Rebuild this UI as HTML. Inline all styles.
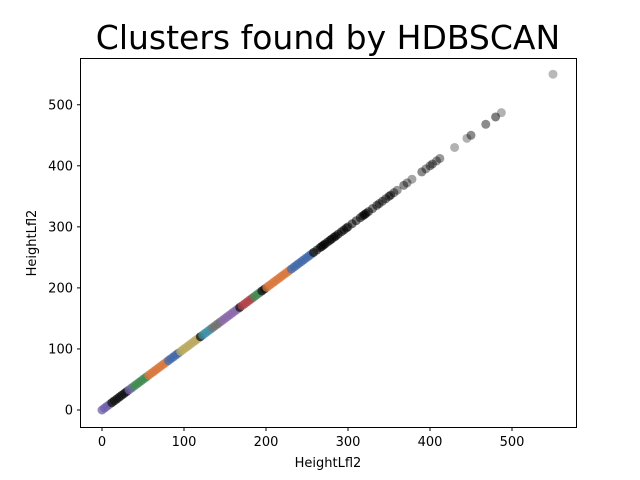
<!DOCTYPE html>
<html><head><meta charset="utf-8"><style>
body{margin:0;background:#fff}
svg{display:block}
text{font-family:"DejaVu Sans","Liberation Sans",sans-serif}
</style></head><body>
<svg id="chart" width="640" height="480">
<text x="328" y="49" font-size="33" text-anchor="middle">Clusters found by HDBSCAN</text>
<g id="marks"></g>
<rect x="80.5" y="58.5" width="496" height="369" fill="none" stroke="#000" stroke-width="1"/>
<g id="axes"></g>
<text x="328" y="467" font-size="13" text-anchor="middle">HeightLfl2</text>
<text transform="translate(36,243) rotate(-90)" font-size="13" text-anchor="middle">HeightLfl2</text>
</svg>
<script>
const xs=[0,3,6,9,12,15,18,21,24,27,30,33,36,39,42,45,48,51,54,57,60,63,66,69,72,75,78,81,84,87,90,93,96,99,102,105,108,111,114,117,120,123,126,129,132,135,138,141,144,147,150,153,156,159,162,165,168,171,174,177,180,183,186,189,192,195,198,201,204,207,210,213,216,219,222,225,228,231,234,237,240,243,246,249,252,255,258];
const labels="PPPPKKKKKKKPPGGGGGGOOOOOOOOBBBBBYYYYYYYYKTTTTAAAAMMMMMMMKRRRRRGGGKKOOOOOOOOOOBBBBBBBBBK";
const noiseX=[262,266,268,270,272,275,278,280,283,285,288,292,295,298,300,305,310,315,318,320,322,325,330,335,338,342,346,350,352,356,360,368,372,378,390,395,400,403,408,412,430,445,450,468,480,487,550];
const noiseAlpha=[0.6,0.6,0.6,0.6,0.6,0.6,0.6,0.6,0.6,0.6,0.6,0.6,0.55,0.55,0.55,0.55,0.55,0.55,0.6,0.6,0.6,0.55,0.5,0.5,0.5,0.5,0.5,0.5,0.5,0.45,0.4,0.45,0.4,0.35,0.45,0.4,0.45,0.45,0.4,0.4,0.3,0.3,0.45,0.45,0.5,0.3,0.28];
const xTicks=[0,100,200,300,400,500];
const yTicks=[0,100,200,300,400,500];
const palette={P:"#6f5fa8",K:"#111111",G:"#3f8a50",O:"#d8773c",B:"#4268a8",Y:"#b9a860",T:"#3e8fa6",A:"#707070",M:"#8a68a8",R:"#b04048"};
const sx=v=>102+v*0.82, sy=v=>410-v*0.6105;
const NS="http://www.w3.org/2000/svg";
const marks=document.getElementById('marks');
noiseX.forEach((v,i)=>{
 const c=document.createElementNS(NS,'circle');
 c.setAttribute('cx',sx(v));c.setAttribute('cy',sy(v));c.setAttribute('r',4.5);
 c.setAttribute('fill','#000');c.setAttribute('fill-opacity',noiseAlpha[i]);
 
 
 marks.appendChild(c);
});
xs.forEach((v,i)=>{
 const c=document.createElementNS(NS,'circle');
 c.setAttribute('cx',sx(v));c.setAttribute('cy',sy(v));c.setAttribute('r',4.5);
 c.setAttribute('fill',palette[labels[i]]);c.setAttribute('fill-opacity',0.75);
 
 
 marks.appendChild(c);
});
const axes=document.getElementById('axes');
xTicks.forEach(t=>{
 const l=document.createElementNS(NS,'line');
 l.setAttribute('x1',sx(t));l.setAttribute('x2',sx(t));l.setAttribute('y1',427.5);l.setAttribute('y2',431);l.setAttribute('stroke','#000');
 
 
 axes.appendChild(l);
 const tx=document.createElementNS(NS,'text');
 tx.setAttribute('x',sx(t));tx.setAttribute('y',446);tx.setAttribute('font-size','13');tx.setAttribute('text-anchor','middle');tx.textContent=t;
 
 
 axes.appendChild(tx);
});
yTicks.forEach(t=>{
 const l=document.createElementNS(NS,'line');
 l.setAttribute('x1',77);l.setAttribute('x2',80.5);l.setAttribute('y1',sy(t));l.setAttribute('y2',sy(t));l.setAttribute('stroke','#000');
 
 
 axes.appendChild(l);
 const tx=document.createElementNS(NS,'text');
 tx.setAttribute('x',73);tx.setAttribute('y',sy(t)+4.5);tx.setAttribute('font-size','13');tx.setAttribute('text-anchor','end');tx.textContent=t;
 
 
 axes.appendChild(tx);
});
</script>
</body></html>
